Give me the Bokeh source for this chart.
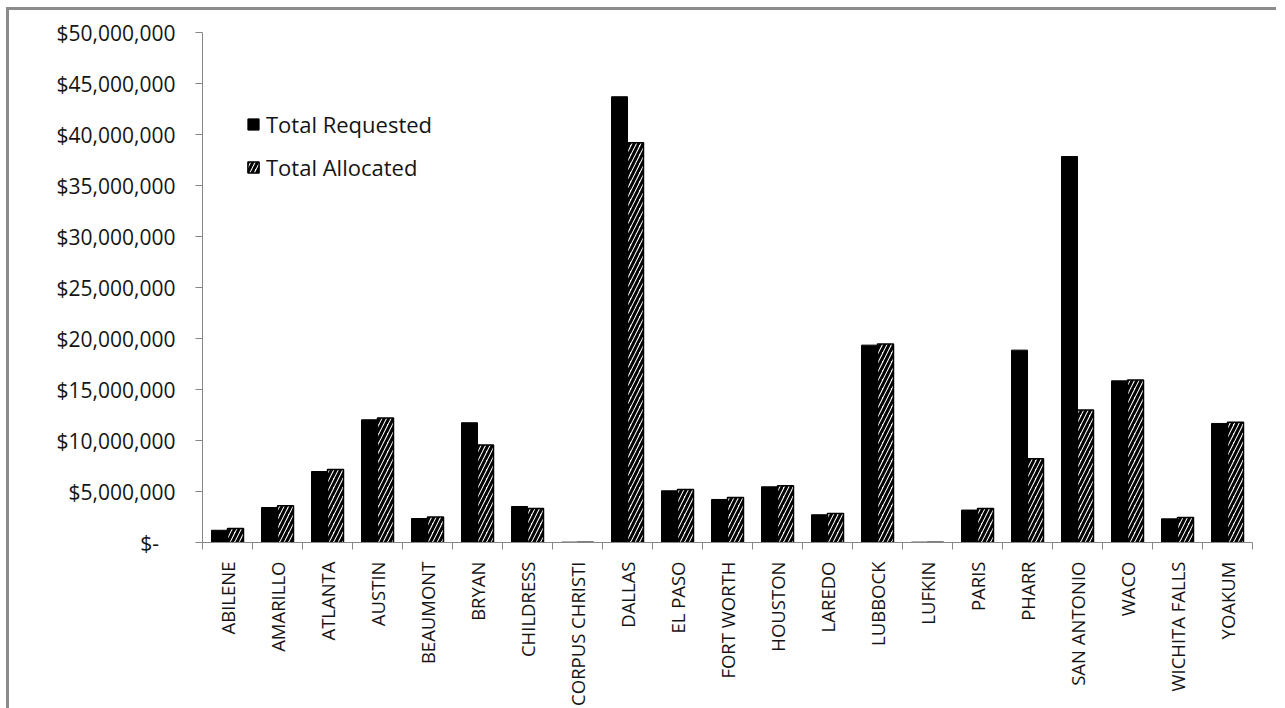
import math
from bokeh.plotting import figure
from bokeh.models import (ColumnDataSource, FixedTicker, Range1d, Legend, LegendItem,
                          LinearAxis)
from bokeh.embed import file_html
from bokeh.resources import INLINE

# ---- data ----
districts = ["ABILENE", "AMARILLO", "ATLANTA", "AUSTIN", "BEAUMONT", "BRYAN", "CHILDRESS",
             "CORPUS CHRISTI", "DALLAS", "EL PASO", "FORT WORTH", "HOUSTON", "LAREDO",
             "LUBBOCK", "LUFKIN", "PARIS", "PHARR", "SAN ANTONIO", "WACO", "WICHITA FALLS",
             "YOAKUM"]
total_requested = [1200000, 3430000, 6960000, 12030000, 2350000, 11740000, 3530000,
                   30000, 43700000, 5070000, 4220000, 5460000, 2720000,
                   19350000, 30000, 3180000, 18860000, 37840000, 15850000, 2320000,
                   11670000]
total_allocated = [1370000, 3600000, 7160000, 12200000, 2490000, 9550000, 3330000,
                   30000, 39200000, 5200000, 4410000, 5560000, 2840000,
                   19450000, 30000, 3330000, 8200000, 12980000, 15920000, 2450000,
                   11800000]
y_ticks = [0, 5000000, 10000000, 15000000, 20000000, 25000000, 30000000, 35000000,
           40000000, 45000000, 50000000]
y_tick_labels = ["$-\u00a0\u00a0\u00a0", "$5,000,000", "$10,000,000", "$15,000,000",
                 "$20,000,000", "$25,000,000", "$30,000,000", "$35,000,000",
                 "$40,000,000", "$45,000,000", "$50,000,000"]

FONT = "Open Sans"
AXIS_GRAY = "#868686"
TEXT = "#141414"

n = len(districts)
idx = list(range(n))
bar_w = 0.32
src = ColumnDataSource(dict(
    xr=[i + 0.5 - bar_w / 2 for i in idx],
    xa=[i + 0.5 + bar_w / 2 for i in idx],
    req=total_requested,
    alloc=total_allocated,
))

p = figure(frame_width=1050, frame_height=510,
           min_border_left=193, min_border_right=24, min_border_top=22, min_border_bottom=160,
           x_range=Range1d(0, n), y_range=Range1d(0, 50000000),
           output_backend="svg", toolbar_location=None,
           x_axis_type=None, y_axis_type=None)
p.margin = (7, 0, 0, 6)
p.styles = {"border-left": "3px solid #8c8c8c", "border-top": "3px solid #8c8c8c"}
p.outline_line_color = None
p.background_fill_color = "white"
p.border_fill_color = "white"
p.xgrid.visible = False
p.ygrid.visible = False

r_req = p.vbar(x="xr", top="req", width=bar_w, bottom=0, source=src,
               fill_color="black", line_color="black", line_width=1)
r_alloc = p.vbar(x="xa", top="alloc", width=bar_w, bottom=0, source=src,
                 fill_color="white", line_color="black", line_width=1.5,
                 hatch_pattern="/", hatch_color="black", hatch_weight=3, hatch_scale=9)

# y axis
yax = LinearAxis(ticker=FixedTicker(ticks=y_ticks, minor_ticks=[]))
yax.major_label_overrides = {t: l for t, l in zip(y_ticks, y_tick_labels)}
yax.axis_line_color = AXIS_GRAY
yax.major_tick_line_color = AXIS_GRAY
yax.major_tick_in = 0
yax.major_tick_out = 7
yax.minor_tick_line_color = None
yax.major_label_standoff = 20
yax.major_label_text_font = FONT
yax.major_label_text_font_size = "21px"
yax.major_label_text_color = TEXT
p.add_layout(yax, "left")

# x axis: labels at centres, tick marks at category boundaries
centers = [i + 0.5 for i in idx]
xax = LinearAxis(ticker=FixedTicker(ticks=centers, minor_ticks=list(range(n + 1))))
xax.major_label_overrides = {c: d for c, d in zip(centers, districts)}
xax.axis_line_color = AXIS_GRAY
xax.major_tick_line_color = None
xax.major_tick_in = 0
xax.major_tick_out = 0
xax.minor_tick_line_color = AXIS_GRAY
xax.minor_tick_in = 0
xax.minor_tick_out = 7
xax.major_label_orientation = math.pi / 2
xax.major_label_standoff = 12
xax.major_label_text_font = FONT
xax.major_label_text_font_size = "18.5px"
xax.major_label_text_color = TEXT
p.add_layout(xax, "below")

legend = Legend(items=[LegendItem(label="Total Requested", renderers=[r_req]),
                       LegendItem(label="Total Allocated", renderers=[r_alloc])],
                location=(44, 360), orientation="vertical")
legend.background_fill_alpha = 0
legend.border_line_color = None
legend.padding = 0
legend.margin = 0
legend.spacing = 13
legend.glyph_width = 14
legend.glyph_height = 14
legend.label_standoff = 6
legend.label_text_font = FONT
legend.label_text_font_size = "22px"
legend.label_text_color = TEXT
p.add_layout(legend, "center")

open("out.html", "w").write(file_html(p, INLINE))
